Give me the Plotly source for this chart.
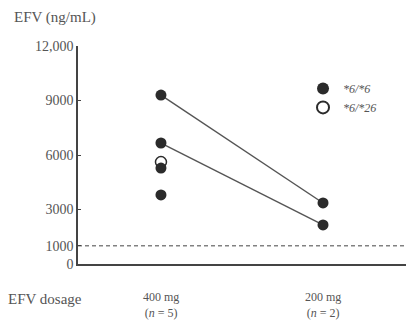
import plotly.graph_objects as go

# ---- data ----
dose_labels = ["400 mg", "200 mg"]
n_per_dose = [5, 2]
dose_pos = [0, 1]

# paired patients (*6/*6), 400 mg -> 200 mg
patient_a = [9300, 3360]
patient_b = [6660, 2150]
# other *6/*6 patients at 400 mg only
other_66_400 = [5280, 3800]
# *6/*26 patient at 400 mg
g626_400 = [5610]

threshold = 1000
ytick_vals = [0, 1000, 3000, 6000, 9000, 12000]
ytick_text = ["0", "1000", "3000", "6000", "9000", "12,000"]

FONT = "Liberation Serif"
TXT = "#555555"
DARK = "#2b2b2b"

fig = go.Figure()

# *6/*26 open circle (drawn first, underneath)
fig.add_trace(go.Scatter(
    x=[dose_pos[0]] * len(g626_400), y=g626_400, mode="markers",
    marker=dict(size=11, color="white", line=dict(color=DARK, width=1.5)),
    name="<i>*6/*26</i>", legendrank=2))

# connecting lines for paired patients
for p in (patient_a, patient_b):
    fig.add_trace(go.Scatter(
        x=dose_pos, y=p, mode="lines+markers",
        line=dict(color="#555555", width=1.4),
        marker=dict(size=11, color=DARK),
        showlegend=False))

fig.add_trace(go.Scatter(
    x=[dose_pos[0]] * len(other_66_400), y=other_66_400, mode="markers",
    marker=dict(size=11, color=DARK),
    name="<i>*6/*6</i>", legendrank=1))

fig.add_hline(y=threshold, line=dict(color="#444444", width=1, dash="4px,3px"))

# dose labels
for xp, lab, n in zip(dose_pos, dose_labels, n_per_dose):
    fig.add_annotation(x=xp, xref="x", y=-0.188, yref="paper",
                       text=f"{lab}<br>(<i>n</i> = {n})", showarrow=False,
                       font=dict(family=FONT, size=12, color=TXT),
                       yanchor="middle", align="center")

fig.add_annotation(x=-72 / 328, xref="paper", y=-0.161, yref="paper",
                   text="EFV dosage", showarrow=False, xanchor="left", yanchor="middle",
                   font=dict(family=FONT, size=15, color=TXT))
fig.add_annotation(x=-66 / 328, xref="paper", y=1.133, yref="paper",
                   text="EFV (ng/mL)", showarrow=False, xanchor="left", yanchor="middle",
                   font=dict(family=FONT, size=15, color=TXT))

fig.update_layout(
    width=406, height=329,
    margin=dict(l=78, r=0, t=46, b=65),
    paper_bgcolor="white", plot_bgcolor="white",
    font=dict(family=FONT, size=12, color=TXT),
    xaxis=dict(range=[-0.512, 1.512], showgrid=False, zeroline=False,
               showline=True, linecolor="#444444", linewidth=1.5,
               showticklabels=False, ticks=""),
    yaxis=dict(range=[0, 12000], showgrid=False, zeroline=False,
               showline=True, linecolor="#444444", linewidth=1.5,
               tickvals=ytick_vals, ticktext=ytick_text,
               ticks="inside", ticklen=3, tickcolor="#444444",
               tickfont=dict(family=FONT, size=14, color=TXT)),
    legend=dict(x=0.686, y=0.872, xanchor="left", yanchor="top",
                bgcolor="rgba(0,0,0,0)", font=dict(family=FONT, size=12, color=TXT),
                itemsizing="constant", tracegroupgap=0),
    showlegend=True,
)

fig.write_html("out.html")
